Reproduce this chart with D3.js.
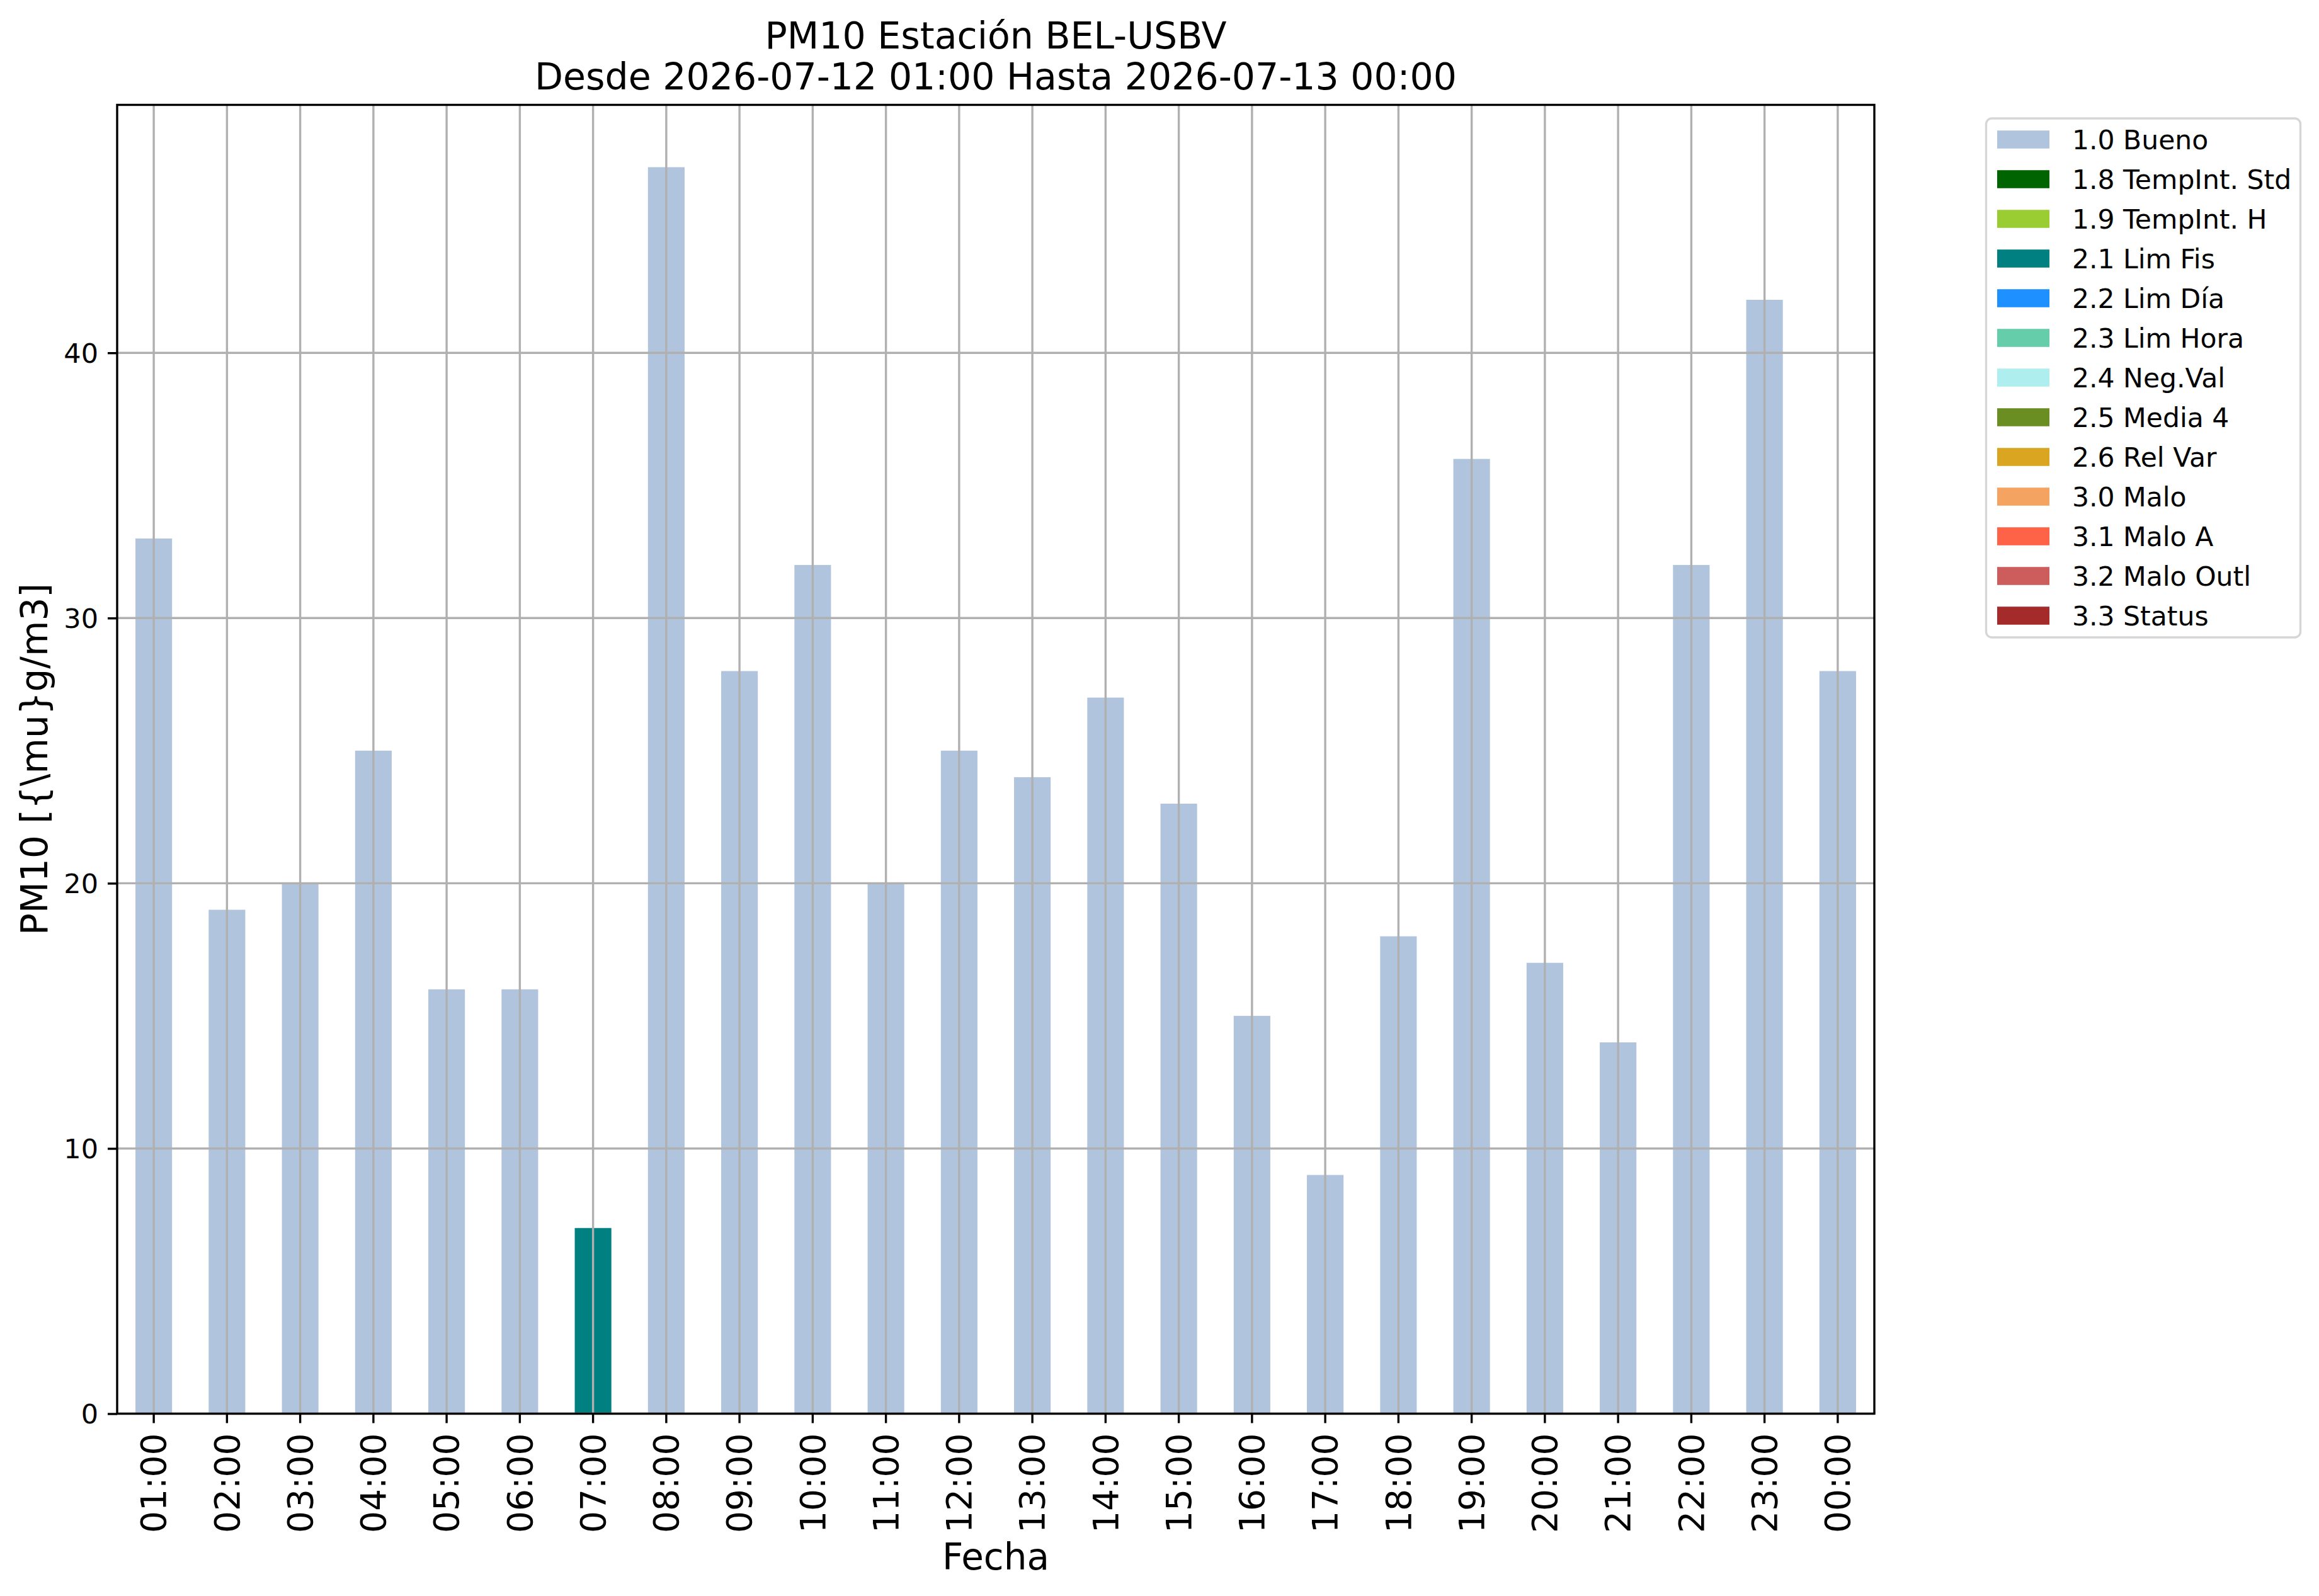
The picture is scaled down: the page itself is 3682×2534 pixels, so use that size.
<!DOCTYPE html>
<html>
<head>
<meta charset="utf-8">
<script src="https://cdn.jsdelivr.net/npm/d3@7"></script>
<style>
  html, body { margin: 0; padding: 0; background: #ffffff; }
  text { font-family: "DejaVu Sans", sans-serif; }
</style>
</head>
<body>
<svg id="chart"></svg>
<script>
// hourly PM10 values and the validation flag of each hour
const hours = ['01:00', '02:00', '03:00', '04:00', '05:00', '06:00', '07:00', '08:00',
    '09:00', '10:00', '11:00', '12:00', '13:00', '14:00', '15:00', '16:00',
    '17:00', '18:00', '19:00', '20:00', '21:00', '22:00', '23:00', '00:00'];
const pm10 = [33, 19, 20, 25, 16, 16, 7, 47, 28, 32, 20, 25,
    24, 27, 23, 15, 9, 18, 36, 17, 14, 32, 42, 28];
const flags = ['1.0 Bueno', '1.0 Bueno', '1.0 Bueno', '1.0 Bueno', '1.0 Bueno', '1.0 Bueno',
    '2.1 Lim Fis', '1.0 Bueno', '1.0 Bueno', '1.0 Bueno', '1.0 Bueno', '1.0 Bueno',
    '1.0 Bueno', '1.0 Bueno', '1.0 Bueno', '1.0 Bueno', '1.0 Bueno', '1.0 Bueno',
    '1.0 Bueno', '1.0 Bueno', '1.0 Bueno', '1.0 Bueno', '1.0 Bueno', '1.0 Bueno'];

const categories = ['1.0 Bueno', '1.8 TempInt. Std', '1.9 TempInt. H', '2.1 Lim Fis',
    '2.2 Lim Día', '2.3 Lim Hora', '2.4 Neg.Val', '2.5 Media 4', '2.6 Rel Var',
    '3.0 Malo', '3.1 Malo A', '3.2 Malo Outl', '3.3 Status'];
const colors = ['#b0c4de', '#006400', '#9acd32', '#008080', '#1e90ff', '#66cdaa',
    '#afeeee', '#6b8e23', '#daa520', '#f4a460', '#ff6347', '#cd5c5c', '#a52a2a'];

const yTicks = [0, 10, 20, 30, 40];

const titleLines = ['PM10 Estación BEL-USBV', 'Desde 2026-07-12 01:00 Hasta 2026-07-13 00:00'];
const xLabel = 'Fecha';
const yLabel = 'PM10 [{\\mu}g/m3]';

// layout
const width = 3682, height = 2534;
const margin = {top: 166.5, right: 706, bottom: 289.5, left: 186};
const innerW = width - margin.left - margin.right;
const innerH = height - margin.top - margin.bottom;
const lw = 3.4;

const svg = d3.select('#chart')
    .attr('width', width)
    .attr('height', height);

svg.append('rect')
    .attr('width', width)
    .attr('height', height)
    .attr('fill', '#ffffff');

const chart = svg.append('g')
    .attr('transform', `translate(${margin.left}, ${margin.top})`);

// one row per hour, one column per flag category
const table = hours.map((h, i) => {
    const row = {hour: h};
    categories.forEach(c => { row[c] = flags[i] === c ? pm10[i] : 0; });
    return row;
});
const stacked = d3.stack().keys(categories)(table);

const xscale = d3.scaleBand()
    .domain(hours)
    .range([0, innerW])
    .paddingInner(0.5)
    .paddingOuter(0.25);

const yscale = d3.scaleLinear()
    .domain([0, d3.max(pm10) * 1.05])
    .range([innerH, 0]);

const color = d3.scaleOrdinal().domain(categories).range(colors);

// bars
chart.selectAll('.layer')
    .data(stacked)
    .join('g')
    .attr('class', 'layer')
    .attr('fill', d => color(d.key))
    .selectAll('rect')
    .data(d => d.filter(p => p[1] - p[0] > 0))
    .join('rect')
    .attr('x', d => xscale(d.data.hour))
    .attr('width', xscale.bandwidth())
    .attr('y', d => yscale(d[1]))
    .attr('height', d => yscale(d[0]) - yscale(d[1]));

// grid above the bars
chart.append('g')
    .attr('class', 'xgrid')
    .selectAll('line')
    .data(hours)
    .join('line')
    .attr('x1', d => xscale(d) + xscale.bandwidth() / 2)
    .attr('x2', d => xscale(d) + xscale.bandwidth() / 2)
    .attr('y1', 0)
    .attr('y2', innerH)
    .attr('stroke', '#b0b0b0')
    .attr('stroke-width', lw);

chart.append('g')
    .attr('class', 'ygrid')
    .selectAll('line')
    .data(yTicks)
    .join('line')
    .attr('x1', 0)
    .attr('x2', innerW)
    .attr('y1', d => yscale(d))
    .attr('y2', d => yscale(d))
    .attr('stroke', '#b0b0b0')
    .attr('stroke-width', lw);

// axes
const xaxis = d3.axisBottom(xscale)
    .tickSize(15)
    .tickSizeOuter(0);

const xaxis_group = chart.append('g')
    .attr('transform', `translate(0, ${innerH})`)
    .call(xaxis);

xaxis_group.select('.domain').remove();
xaxis_group.selectAll('.tick line')
    .attr('stroke', '#000')
    .attr('stroke-width', lw);
xaxis_group.selectAll('.tick text')
    .attr('fill', '#000')
    .style('font-size', '55px')
    .attr('text-anchor', 'end')
    .attr('transform', 'rotate(-90)')
    .attr('x', -31)
    .attr('y', 0)
    .attr('dy', '0.35em');

const yaxis = d3.axisLeft(yscale)
    .tickValues(yTicks)
    .tickFormat(d3.format('d'))
    .tickSize(15)
    .tickPadding(15)
    .tickSizeOuter(0);

const yaxis_group = chart.append('g')
    .call(yaxis);

yaxis_group.select('.domain').remove();
yaxis_group.selectAll('.tick line')
    .attr('stroke', '#000')
    .attr('stroke-width', lw);
yaxis_group.selectAll('.tick text')
    .attr('fill', '#000')
    .style('font-size', '43px')
    .attr('dy', '0.36em');

// frame
chart.append('rect')
    .attr('x', 0)
    .attr('y', 0)
    .attr('width', innerW)
    .attr('height', innerH)
    .attr('fill', 'none')
    .attr('stroke', '#000')
    .attr('stroke-width', lw);

// title and labels
svg.append('g')
    .selectAll('text')
    .data(titleLines)
    .join('text')
    .attr('x', margin.left + innerW / 2)
    .attr('y', (d, i) => 76.5 + i * 65)
    .attr('text-anchor', 'middle')
    .style('font-size', '58.5px')
    .text(d => d);

svg.append('text')
    .attr('x', margin.left + innerW / 2)
    .attr('y', 2491.5)
    .attr('text-anchor', 'middle')
    .style('font-size', '58px')
    .text(xLabel);

svg.append('text')
    .attr('transform', `translate(74.6, ${margin.top + innerH / 2}) rotate(-90)`)
    .attr('text-anchor', 'middle')
    .style('font-size', '58px')
    .text(yLabel);

// legend
const legend = svg.append('g')
    .attr('transform', 'translate(3153.5, 188)');

legend.append('rect')
    .attr('width', 499)
    .attr('height', 824)
    .attr('rx', 9)
    .attr('fill', '#ffffff')
    .attr('fill-opacity', 0.8)
    .attr('stroke', '#cccccc')
    .attr('stroke-opacity', 0.8)
    .attr('stroke-width', lw);

const items = legend.selectAll('.item')
    .data(categories)
    .join('g')
    .attr('class', 'item')
    .attr('transform', (d, i) => `translate(0, ${33.5 + i * 63})`);

items.append('rect')
    .attr('x', 17.5)
    .attr('y', -14.3)
    .attr('width', 83)
    .attr('height', 28.6)
    .attr('fill', d => color(d));

items.append('text')
    .attr('x', 136.5)
    .attr('y', 15)
    .style('font-size', '42.5px')
    .text(d => d);
</script>
</body>
</html>
